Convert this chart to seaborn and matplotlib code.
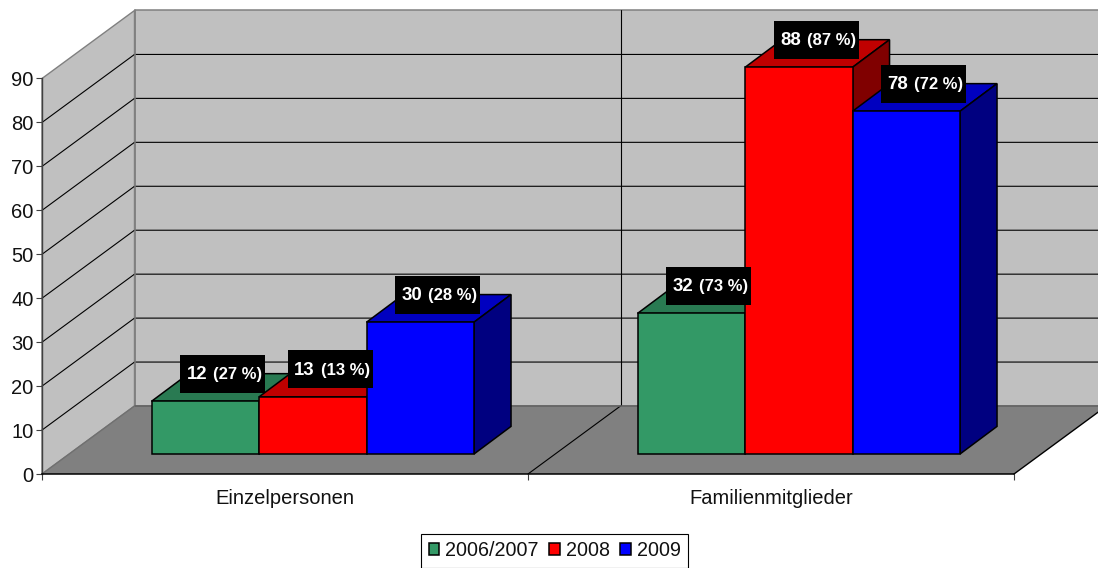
import matplotlib
matplotlib.use("Agg")
import matplotlib.pyplot as plt
from matplotlib.patches import Polygon, Rectangle
import pandas as pd
import seaborn as sns

categories = ["Einzelpersonen", "Familienmitglieder"]
years = ["2006/2007", "2008", "2009"]
values_2006 = [12, 32]
values_2008 = [13, 88]
values_2009 = [30, 78]
share_2006 = [27, 73]
share_2008 = [13, 87]
share_2009 = [28, 72]
front_colors = ["#339966", "#FF0000", "#0000FF"]
top_colors = ["#297A52", "#C00000", "#0000C0"]
side_colors = ["#1F5C3D", "#800000", "#000080"]

W, H = 1098, 568
sns.set_style("white")
plt.rcParams["font.family"] = ["Liberation Sans", "DejaVu Sans"]

df = pd.DataFrame({
    "Gruppe": categories * 3,
    "Jahr": sum([[y] * 2 for y in years], []),
    "Anzahl": values_2006 + values_2008 + values_2009,
})

fig = plt.figure(figsize=(W / 100, H / 100), dpi=100)
L, R, T, B = 42, 1014, 78.5, 474
ax = fig.add_axes([L / W, 1 - B / H, (R - L) / W, (B - T) / H])
ax.patch.set_alpha(0)

sns.barplot(data=df, x="Gruppe", y="Anzahl", hue="Jahr", hue_order=years,
            order=categories, palette=front_colors, width=0.6635, gap=0,
            edgecolor="black", linewidth=1.1, saturation=1, ax=ax)
ax.set_xlim(-0.5, 1.5)
ax.set_ylim(0, 90)

px = 2 / (R - L)            # data units per pixel, x
py = 90 / (B - T)           # data units per pixel, y

# walls and floor
WX, WY = 92.5 * px, 68.0 * py
ax.add_patch(Polygon([(-0.5, 0), (-0.5 + WX, WY), (-0.5 + WX, 90 + WY), (-0.5, 90)],
                     fc="#C0C0C0", ec="#808080", lw=1, clip_on=False, zorder=0))
ax.add_patch(Polygon([(-0.5 + WX, WY), (1.5 + WX, WY), (1.5 + WX, 90 + WY), (-0.5 + WX, 90 + WY)],
                     fc="#C0C0C0", ec="#808080", lw=1.1, clip_on=False, zorder=0))
ax.add_patch(Polygon([(-0.5, 0), (1.5, 0), (1.5 + WX, WY), (-0.5 + WX, WY)],
                     fc="#808080", ec="none", clip_on=False, zorder=0.5))
for t in range(10, 90, 10):
    ax.plot([-0.5, -0.5 + WX, 1.5 + WX], [t, t + WY, t + WY], color="black",
            lw=0.8, clip_on=False, zorder=0.4)
ax.plot([-0.5 + WX, -0.5 + WX], [WY, 90 + WY], color="#808080", lw=1.1, clip_on=False, zorder=0.45)
ax.plot([0.5 + WX, 0.5 + WX], [WY, 90 + WY], color="black", lw=0.8, clip_on=False, zorder=0.4)
ax.plot([0.5, 0.5 + WX], [0, WY], color="black", lw=0.8, clip_on=False, zorder=0.6)
ax.plot([-0.5 + WX, 1.5 + WX], [WY, WY], color="#606060", lw=1.1, clip_on=False, zorder=0.6)
ax.plot([1.5, 1.5 + WX], [0, WY], color="black", lw=1.0, clip_on=False, zorder=0.6)
ax.plot([-0.5, -0.5 + WX], [0, WY], color="#707070", lw=1.0, clip_on=False, zorder=0.6)

# 3D bars: seaborn's bars are moved to the front plane of the bar block
SX, SY = 27.8 * px, 20 * py  # shift from axis plane to the bar front
DX, DY = 37 * px, 27.6 * py  # depth of bars
shares = [share_2006, share_2008, share_2009]
items = []
for h, cont in enumerate(ax.containers):
    for c, bar in enumerate(cont):
        items.append((c, h, bar))
for c, h, bar in sorted(items, key=lambda i: (i[0], i[1])):
    bar.set_x(bar.get_x() + SX)
    bar.set_y(bar.get_y() + SY)
    bar.set_clip_on(False)
    x0, x1 = bar.get_x(), bar.get_x() + bar.get_width()
    y0, y1 = bar.get_y(), bar.get_y() + bar.get_height()
    z = 2 + (c * 3 + h) * 0.1
    ax.add_patch(Polygon([(x0, y1), (x1, y1), (x1 + DX, y1 + DY), (x0 + DX, y1 + DY)],
                         fc=top_colors[h], ec="black", lw=1.1, clip_on=False, zorder=z))
    ax.add_patch(Polygon([(x1, y0), (x1 + DX, y0 + DY), (x1 + DX, y1 + DY), (x1, y1)],
                         fc=side_colors[h], ec="black", lw=1.1, clip_on=False, zorder=z + 0.01))
    bar.set_zorder(z + 0.02)

    # data label
    cx = (x0 + x1) / 2 + 17.5 * px
    cy = y1 + 27.5 * py
    ax.add_patch(Rectangle((cx - 42.5 * px, cy - 19 * py), 85 * px, 38 * py,
                           fc="black", ec="none", clip_on=False, zorder=5))
    split = cx - 14 * px
    base = cy - 5.2 * py
    ax.text(split - 1.5 * px, base, f"{int(bar.get_height())}", color="white", fontweight="bold",
            fontsize=13.4, ha="right", va="baseline", zorder=6)
    ax.text(split + 4.5 * px, base, f"({shares[h][c]} %)", color="white", fontweight="bold",
            fontsize=12, ha="left", va="baseline", zorder=6)

# axes
sns.despine(ax=ax, top=True, right=True)
ax.spines["left"].set_color("#404040")
ax.spines["left"].set_linewidth(1.0)
ax.spines["bottom"].set_color("black")
ax.spines["bottom"].set_linewidth(1.1)
ax.set_xlabel("")
ax.set_ylabel("")
ax.set_yticks(range(0, 100, 10))
ax.tick_params(axis="y", left=True, length=4.5, width=0.8, color="#404040", labelsize=14.5,
               pad=1.5, labelcolor="#111111")
ax.set_xticks([-0.5, 0.5, 1.5], labels=["", "", ""])
ax.set_xticks([0, 1], labels=categories, minor=True)
ax.tick_params(axis="x", which="major", bottom=True, length=4.5, width=0.8, color="#404040")
ax.tick_params(axis="x", which="minor", bottom=False, length=0, labelsize=14.5, pad=10.5,
               labelcolor="#111111")
ax.grid(False)

handles, labels = ax.get_legend_handles_labels()
ax.get_legend().remove()
leg = fig.legend(handles, labels, loc="lower center", ncol=3, fontsize=14.2,
                 bbox_to_anchor=(554.5 / W, 1 - 567.5 / H), frameon=True, fancybox=False,
                 edgecolor="black", framealpha=1, handlelength=0.55, handleheight=0.55,
                 handletextpad=0.31, columnspacing=0.5, borderpad=0.36, borderaxespad=0,
                 labelcolor="#111111")
leg.get_frame().set_linewidth(0.8)

fig.savefig("out.png", dpi=100)
